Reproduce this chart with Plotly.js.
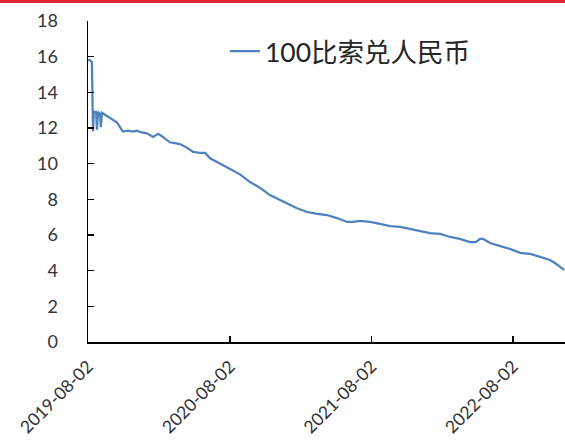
<!DOCTYPE html>
<html>
<head>
<meta charset="utf-8">
<script src="https://cdn.plot.ly/plotly-3.0.1.min.js"></script>
<style>
  html, body { margin: 0; padding: 0; background: #fff; }
  #chart { width: 565px; height: 442px; }
</style>
</head>
<body>
<div id="chart"></div>
<script>
// 100 Mexican peso priced in RMB, Aug 2019 – Dec 2022
const dates = [
  '2019-08-02','2019-08-07','2019-08-12','2019-08-15','2019-08-17','2019-08-23',
  '2019-08-25','2019-08-28','2019-09-02','2019-09-04','2019-09-07','2019-09-17',
  '2019-09-28','2019-10-16','2019-10-31','2019-11-13','2019-11-26','2019-12-06',
  '2019-12-19','2020-01-01','2020-01-17','2020-01-30','2020-02-11','2020-02-29',
  '2020-03-13','2020-03-26','2020-04-13','2020-04-29','2020-05-17','2020-05-30',
  '2020-06-12','2020-06-30','2020-07-15','2020-08-02','2020-08-28','2020-09-23',
  '2020-10-19','2020-11-13','2020-12-09','2021-01-04','2021-01-22','2021-02-17',
  '2021-03-15','2021-04-09','2021-05-05','2021-05-31','2021-06-15','2021-07-03',
  '2021-07-29','2021-08-24','2021-09-19','2021-10-15','2021-11-09','2021-12-05',
  '2021-12-31','2022-01-26','2022-02-21','2022-03-18','2022-04-13','2022-04-28',
  '2022-05-09','2022-05-17','2022-06-04','2022-06-30','2022-07-25','2022-08-20',
  '2022-09-15','2022-10-11','2022-11-05','2022-11-18','2022-12-01','2022-12-12'
];
const pesoRmb = [
  15.8, 15.8, 15.7, 11.8, 12.9, 12.9,
  11.9, 12.9, 12.8, 12.05, 12.85, 12.7,
  12.56, 12.3, 11.8, 11.85, 11.8, 11.85,
  11.75, 11.7, 11.5, 11.67, 11.5, 11.2,
  11.15, 11.1, 10.9, 10.66, 10.6, 10.6,
  10.3, 10.1, 9.93, 9.72, 9.4, 8.97,
  8.64, 8.24, 7.96, 7.68, 7.5, 7.29,
  7.18, 7.12, 6.95, 6.73, 6.73, 6.79,
  6.73, 6.62, 6.5, 6.45, 6.34, 6.23,
  6.11, 6.06, 5.89, 5.78, 5.6, 5.6,
  5.78, 5.78, 5.55, 5.38, 5.22, 5.0,
  4.94, 4.77, 4.6, 4.43, 4.2, 4.04
];
const seriesName = '100比索兑人民币';
const xTicks = ['2019-08-02', '2020-08-02', '2021-08-02', '2022-08-02'];
const yTicks = [0, 2, 4, 6, 8, 10, 12, 14, 16, 18];

const baseFont = 'Lato, "Noto Sans CJK SC", sans-serif';

const trace = {
  x: dates,
  y: pesoRmb,
  type: 'scatter',
  mode: 'lines',
  name: seriesName,
  line: { color: '#4F81BD', width: 2.25 },
  hoverinfo: 'x+y'
};

const layout = {
  width: 565,
  height: 442,
  margin: { l: 88, r: 0, t: 21, b: 100, pad: 0 },
  paper_bgcolor: '#ffffff',
  plot_bgcolor: '#ffffff',
  font: { family: baseFont, color: '#333333', size: 17 },
  showlegend: true,
  legend: {
    x: 0.287, xanchor: 'left',
    y: 0.905, yanchor: 'middle',
    bgcolor: 'rgba(0,0,0,0)',
    font: { size: 26.5, family: baseFont, color: '#262626' }
  },
  xaxis: {
    type: 'date',
    range: ['2019-08-02', '2022-12-14'],
    tickmode: 'array',
    tickvals: xTicks,
    ticktext: xTicks,
    tickangle: -45,
    ticks: 'inside',
    ticklen: 6,
    tickwidth: 1.5,
    tickcolor: '#000',
    showline: true,
    linecolor: '#000',
    linewidth: 1.5,
    showgrid: false,
    zeroline: false,
    tickfont: { size: 17.5, family: baseFont, color: '#333333' },
    ticklabelstandoff: 6
  },
  yaxis: {
    range: [0, 18],
    tickmode: 'array',
    tickvals: yTicks,
    ticks: 'inside',
    ticklen: 6,
    tickwidth: 1.5,
    tickcolor: '#000',
    showline: true,
    linecolor: '#000',
    linewidth: 1.5,
    showgrid: false,
    zeroline: false,
    tickfont: { size: 18, family: baseFont, color: '#333333' },
    ticklabelstandoff: 25
  },
  shapes: [
    // red rule along the top edge of the page
    {
      type: 'rect', xref: 'paper', yref: 'paper',
      x0: -88 / 477, x1: 1, y0: 339 / 321, y1: 342 / 321,
      fillcolor: '#DC2430', line: { width: 0 }, layer: 'above'
    }
  ]
};

Plotly.newPlot('chart', [trace], layout, { displayModeBar: false, staticPlot: true });
</script>
</body>
</html>
